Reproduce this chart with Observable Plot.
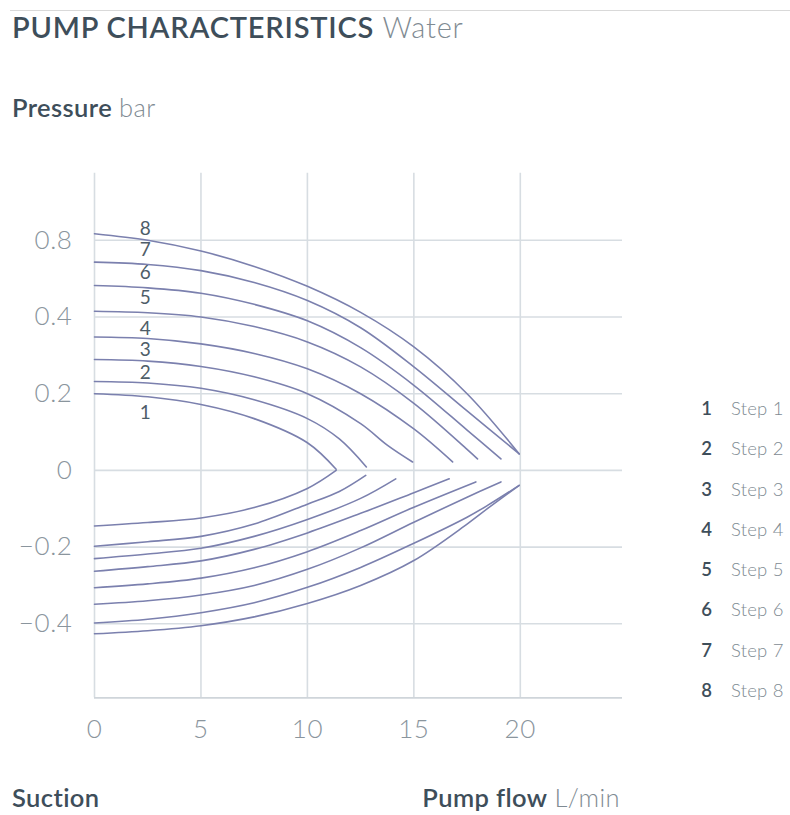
<!DOCTYPE html>
<html>
<head>
<meta charset="utf-8">
<script src="https://cdn.jsdelivr.net/npm/d3@7"></script>
<script src="https://cdn.jsdelivr.net/npm/@observablehq/plot@0.6"></script>
<style>
  body { margin: 0; background: #fff; width: 790px; height: 815px; position: relative; overflow: hidden;
         font-family: Lato, "Open Sans", sans-serif; }
  .abs { position: absolute; white-space: nowrap; line-height: 1; }
  .dark { color: #3e4e5a; font-weight: 600; }
  .light { color: #7f8b93; font-weight: 300; }
  #topline { position: absolute; left: 10px; right: 0; top: 10px; border-top: 1px solid #d9d9d9; }
  #chart { position: absolute; left: 0; top: 150px; }
  #legend { position: absolute; left: 690px; top: 388px; font-size: 18.5px; }
  #legend .row { height: 40.3px; line-height: 40.3px; white-space: nowrap; }
  #legend .num { display: inline-block; width: 22px; text-align: right; color: #3e4e5a; font-weight: 600; }
  #legend .lab { display: inline-block; margin-left: 19px; color: #7e8a92; font-weight: 300; letter-spacing: 0.2px; }
</style>
</head>
<body>
<div id="topline"></div>
<div class="abs" style="left:12px; top:12px; font-size:29px; letter-spacing:0.8px;"><span class="dark">PUMP CHARACTERISTICS</span> <span class="light">Water</span></div>
<div class="abs" style="left:12px; top:95px; font-size:25.5px; letter-spacing:0.4px;"><span class="dark">Pressure</span> <span class="light">bar</span></div>
<div id="chart"></div>
<div id="legend"></div>
<div class="abs" style="left:12px; top:785px; font-size:25.5px; letter-spacing:0.4px;"><span class="dark">Suction</span></div>
<div class="abs" style="right:170px; top:785px; font-size:25.5px; letter-spacing:0.4px;"><span class="dark">Pump flow</span> <span class="light">L/min</span></div>
<script>
// Axis ticks (positions on the grid, and the labels printed on the original)
const flowTicks = [0, 5, 10, 15, 20];
const pressureTicks = [0.6, 0.4, 0.2, 0, -0.2, -0.4];
const pressureTickLabels = ["0.8", "0.4", "0.2", "0", "\u22120.2", "\u22120.4"];
const flowDomain = [0, 24.8];
const pressureDomain = [-0.593, 0.775];

// Steps
const steps = [1, 2, 3, 4, 5, 6, 7, 8];
const stepNames = ["Step 1", "Step 2", "Step 3", "Step 4", "Step 5", "Step 6", "Step 7", "Step 8"];

// Pressure branch (upper curves): flow and pressure, one list per step
const pressureFlow = [
  [0, 2.5, 5, 7.5, 10, 11.35],
  [0, 2.5, 5, 7.5, 10, 11.5, 12.77],
  [0, 2.5, 5, 7.5, 10, 12.5, 13.75, 14.94],
  [0, 2.5, 5, 7.5, 10, 12.5, 15, 16.82],
  [0, 2.5, 5, 7.5, 10, 12.5, 15, 17.5, 17.99],
  [0, 2.5, 5, 7.5, 10, 12.5, 15, 17.5, 19.09],
  [0, 2.5, 5, 7.5, 10, 12.5, 15, 17.5, 19.95],
  [0, 2.5, 5, 7.5, 10, 12.5, 15, 17.5, 19.95]
];
const pressureValues = [
  [0.200, 0.192, 0.172, 0.135, 0.072, 0.003],
  [0.232, 0.228, 0.214, 0.184, 0.135, 0.082, 0.009],
  [0.289, 0.285, 0.271, 0.244, 0.200, 0.122, 0.066, 0.022],
  [0.348, 0.344, 0.330, 0.305, 0.265, 0.200, 0.108, 0.022],
  [0.415, 0.411, 0.400, 0.375, 0.335, 0.270, 0.175, 0.055, 0.030],
  [0.482, 0.476, 0.462, 0.433, 0.390, 0.320, 0.222, 0.105, 0.030],
  [0.543, 0.537, 0.521, 0.490, 0.443, 0.372, 0.270, 0.155, 0.043],
  [0.617, 0.600, 0.572, 0.532, 0.480, 0.412, 0.322, 0.200, 0.043]
];

// Suction branch (lower curves)
const suctionFlow = [
  [0, 2.5, 5, 7.5, 10, 11.35],
  [0, 2.5, 5, 7.5, 10, 11.5, 12.74],
  [0, 2.5, 5, 7.5, 10, 12.5, 14.15],
  [0, 2.5, 5, 7.5, 10, 12.5, 15, 16.66],
  [0, 2.5, 5, 7.5, 10, 12.5, 15, 17.91],
  [0, 2.5, 5, 7.5, 10, 12.5, 15, 17.5, 19.09],
  [0, 2.5, 5, 7.5, 10, 12.5, 15, 17.5, 18.5, 19.95],
  [0, 2.5, 5, 7.5, 10, 12.5, 15, 17.5, 18.5, 19.95]
];
const suctionValues = [
  [-0.145, -0.136, -0.124, -0.097, -0.047, 0.000],
  [-0.198, -0.186, -0.172, -0.140, -0.088, -0.055, -0.013],
  [-0.230, -0.218, -0.203, -0.172, -0.128, -0.073, -0.022],
  [-0.263, -0.251, -0.236, -0.206, -0.163, -0.112, -0.058, -0.022],
  [-0.306, -0.296, -0.281, -0.254, -0.212, -0.157, -0.096, -0.030],
  [-0.349, -0.340, -0.325, -0.300, -0.258, -0.202, -0.135, -0.070, -0.030],
  [-0.398, -0.388, -0.371, -0.345, -0.305, -0.253, -0.190, -0.122, -0.090, -0.039],
  [-0.426, -0.418, -0.405, -0.382, -0.347, -0.300, -0.235, -0.140, -0.098, -0.039]
];

// Curve number labels placed near x = 2.4 L/min
const labelFlow = [2.4, 2.4, 2.4, 2.4, 2.4, 2.4, 2.4, 2.4];
const labelPressure = [0.151, 0.253, 0.313, 0.370, 0.451, 0.514, 0.574, 0.631];

// Build table for the line mark
const rows = [];
steps.forEach((s, i) => {
  pressureFlow[i].forEach((f, j) => rows.push({key: "p" + s, step: s, flow: f, p: pressureValues[i][j]}));
  suctionFlow[i].forEach((f, j) => rows.push({key: "s" + s, step: s, flow: f, p: suctionValues[i][j]}));
});
const labels = steps.map((s, i) => ({step: String(s), flow: labelFlow[i], p: labelPressure[i]}));

const gridColor = "#d7dde2";
const chart = Plot.plot({
  width: 790,
  height: 610,
  marginLeft: 94,
  marginRight: 168,
  marginTop: 22.7,
  marginBottom: 62.7,
  style: {fontFamily: "Lato, 'Open Sans', sans-serif", fontSize: "26px", color: "#8a959d", fontWeight: 300, background: "transparent", letterSpacing: "0.6px"},
  x: {domain: flowDomain, ticks: flowTicks, tickSize: 0, tickPadding: 21.5, label: null},
  y: {domain: pressureDomain, ticks: pressureTicks, tickSize: 0, tickPadding: 22, label: null,
      tickFormat: d => pressureTickLabels[pressureTicks.indexOf(d)]},
  marks: [
    Plot.ruleX(flowTicks, {stroke: gridColor, strokeWidth: 1.6}),
    Plot.ruleY(pressureTicks, {stroke: gridColor, strokeWidth: 1.6}),
    Plot.ruleY([pressureDomain[0]], {stroke: "#cfd5da", strokeWidth: 1.8}),
    Plot.line(rows, {x: "flow", y: "p", z: "key", stroke: "#7b80ae", strokeWidth: 1.6, curve: "catmull-rom"}),
    Plot.text(labels, {x: "flow", y: "p", text: "step", fontSize: 19, fill: "#4e5d68", fontWeight: 400})
  ]
});
document.getElementById("chart").appendChild(chart);

// Legend
const legend = d3.select("#legend");
steps.forEach((s, i) => {
  const row = legend.append("div").attr("class", "row");
  row.append("span").attr("class", "num").text(s);
  row.append("span").attr("class", "lab").text(stepNames[i]);
});
</script>
</body>
</html>
